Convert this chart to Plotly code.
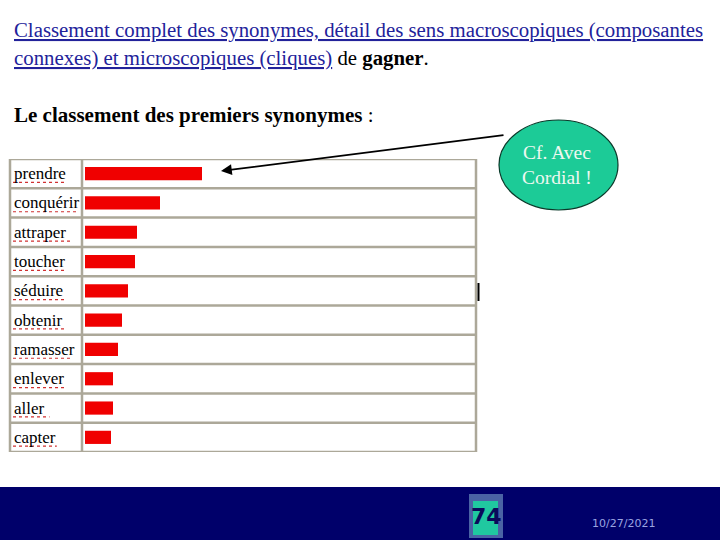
import plotly.graph_objects as go

# ---- data ----
synonymes = ["prendre", "conquérir", "attraper", "toucher", "séduire",
             "obtenir", "ramasser", "enlever", "aller", "capter"]
scores = [117, 75, 52, 50, 43, 37, 33, 28, 28, 26]

title_line1 = "Classement complet des synonymes, détail des sens macroscopiques (composantes"
title_line2_link = "connexes) et microscopiques (cliques)"
title_word = "gagner"
subtitle = "Le classement des premiers synonymes :"
bubble_text = ["Cf. Avec", "Cordial !"]
page_number = "74"
date_text = "10/27/2021"

W, H = 720, 540


def px(x):
    return x / W


def py(y):
    return 1 - y / H


fig = go.Figure()
fig.add_trace(go.Bar(
    x=scores, y=synonymes, orientation="h",
    marker=dict(color="#f00000", line=dict(width=0)),
    width=0.45, hoverinfo="x+y",
))

serif = "Liberation Serif"

fig.update_layout(
    width=W, height=H,
    margin=dict(l=0, r=0, t=0, b=0),
    paper_bgcolor="white", plot_bgcolor="white",
    showlegend=False,
    bargap=0.55,
    xaxis=dict(domain=[px(85), px(476)], range=[0, 391],
               showgrid=False, zeroline=False, showticklabels=False,
               showline=False, ticks="", fixedrange=True),
    yaxis=dict(domain=[py(452), py(159)], autorange=False,
               range=[9.5, -0.5], categoryorder="array",
               categoryarray=synonymes,
               showgrid=False, zeroline=False, showticklabels=False,
               showline=False, ticks="", fixedrange=True),
)

shapes = []
grid_col = "#aca899"
# horizontal row borders
for i in range(len(synonymes) + 1):
    shapes.append(dict(type="line", xref="paper", yref="y",
                       x0=px(10), x1=px(476), y0=i - 0.5, y1=i - 0.5,
                       line=dict(color=grid_col, width=2.5)))
# vertical borders
for xv in (10, 82, 476):
    shapes.append(dict(type="line", xref="paper", yref="y",
                       x0=px(xv), x1=px(xv), y0=-0.5, y1=9.5,
                       line=dict(color=grid_col, width=2.5)))
# spell-check style red underline under each label
for i, name in enumerate(synonymes):
    wlen = min(len(name) * 7.3, 68)
    shapes.append(dict(type="line", xref="paper", yref="y",
                       x0=px(13), x1=px(13 + wlen), y0=i + 0.3, y1=i + 0.3,
                       line=dict(color="#d03030", width=1.2, dash="dot")))
# small black stroke right of table
shapes.append(dict(type="line", xref="paper", yref="paper",
                   x0=px(478.5), x1=px(478.5), y0=py(283), y1=py(301),
                   line=dict(color="black", width=2)))
# bubble
shapes.append(dict(type="circle", xref="paper", yref="paper",
                   x0=px(499), x1=px(618), y0=py(210), y1=py(120),
                   fillcolor="#1ccb97", line=dict(color="#0a3a2a", width=1.2),
                   layer="above"))
# footer band
shapes.append(dict(type="rect", xref="paper", yref="paper",
                   x0=0, x1=1, y0=0, y1=py(487),
                   fillcolor="#00006a", line=dict(width=0)))
# page number box
shapes.append(dict(type="rect", xref="paper", yref="paper",
                   x0=px(469), x1=px(503), y0=py(538), y1=py(494),
                   fillcolor="#4a63a4", line=dict(width=0)))
shapes.append(dict(type="rect", xref="paper", yref="paper",
                   x0=px(473), x1=px(498), y0=py(535), y1=py(501),
                   fillcolor="#20c8a0", line=dict(width=0)))
fig.update_layout(shapes=shapes)

ann = []
# row labels
for name in synonymes:
    ann.append(dict(x=px(12), y=name, xref="paper", yref="y",
                    text=name, showarrow=False, xanchor="left",
                    yanchor="middle", font=dict(family=serif, size=17, color="black")))
# titles
ann.append(dict(x=px(12), y=py(30), xref="paper", yref="paper",
                text="<u>" + title_line1 + "</u>", showarrow=False,
                xanchor="left", yanchor="middle",
                font=dict(family=serif, size=20.8, color="#22229a")))
ann.append(dict(x=px(12), y=py(58), xref="paper", yref="paper",
                text="<u>" + title_line2_link + "</u>"
                     + "<span style='color:black'> de <b>" + title_word + "</b>.</span>",
                showarrow=False, xanchor="left", yanchor="middle",
                font=dict(family=serif, size=20.8, color="#22229a")))
ann.append(dict(x=px(12), y=py(115), xref="paper", yref="paper",
                text="<b>" + subtitle.replace(" :", "</b> :"), showarrow=False,
                xanchor="left", yanchor="middle",
                font=dict(family=serif, size=21, color="black")))
# arrow from bubble to top bar
ann.append(dict(x=px(221), y=py(171), xref="paper", yref="paper",
                ax=505 - 221, ay=135 - 171, axref="pixel", ayref="pixel",
                text="", showarrow=True, arrowhead=2, arrowsize=1.2,
                arrowwidth=1.8, arrowcolor="black"))
# bubble text
ann.append(dict(x=px(557), y=py(165), xref="paper", yref="paper",
                text="<br>".join(bubble_text), showarrow=False,
                xanchor="center", yanchor="middle",
                font=dict(family=serif, size=19.5, color="#eef8f0")))
# page number
ann.append(dict(x=px(486), y=py(516), xref="paper", yref="paper",
                text="<b>" + page_number + "</b>", showarrow=False,
                xanchor="center", yanchor="middle",
                font=dict(family="DejaVu Sans", size=22, color="#0a0a5a")))
# date
ann.append(dict(x=px(623), y=py(523), xref="paper", yref="paper",
                text=date_text, showarrow=False,
                xanchor="center", yanchor="middle",
                font=dict(family="DejaVu Sans", size=11, color="#9aa4e0")))
fig.update_layout(annotations=ann)

fig.write_html("out.html")
